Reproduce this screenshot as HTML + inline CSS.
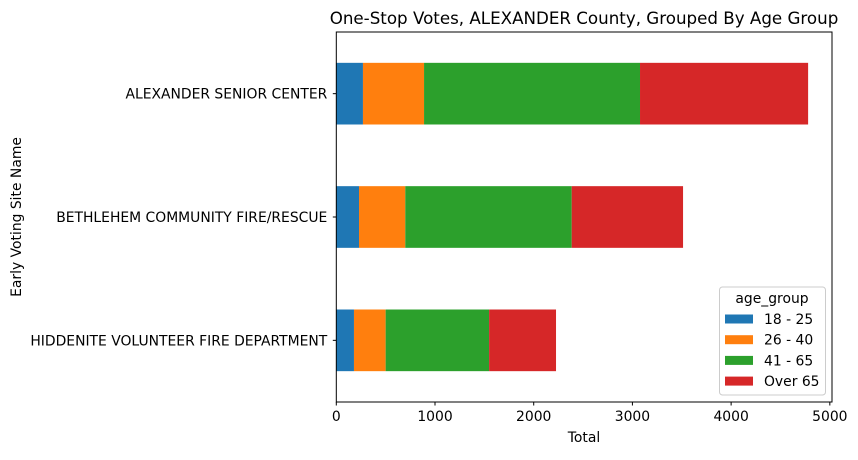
<!DOCTYPE html>
<html><head><meta charset="utf-8"><style>
body{margin:0;background:#fff;}
svg{font-family:"DejaVu Sans","Liberation Sans",sans-serif;}
</style></head><body>
<svg id="chart" width="858" height="455" viewBox="0 0 858 455">
<rect width="858" height="455" fill="#fff"/>
<text x="584" y="24" font-size="16.7" text-anchor="middle">One-Stop Votes, ALEXANDER County, Grouped By Age Group</text>
<g id="bars"></g>
<g id="axes"></g>
<text x="584" y="442" font-size="13.9" text-anchor="middle">Total</text>
<text transform="translate(21,217) rotate(-90)" font-size="13.9" text-anchor="middle">Early Voting Site Name</text>
<g id="legend"></g>
</svg>
<script>
const sites = ["ALEXANDER SENIOR CENTER","BETHLEHEM COMMUNITY FIRE/RESCUE","HIDDENITE VOLUNTEER FIRE DEPARTMENT"];
const groups = ["18 - 25","26 - 40","41 - 65","Over 65"];
const colors = ["#1f77b4","#ff7f0e","#2ca02c","#d62728"];
const v1825 = [270,230,179];
const v2640 = [619,469,321];
const v4165 = [2188,1686,1048];
const vOver65 = [1703,1128,678];
const xTicks = [0,1000,2000,3000,4000,5000];
const series = [v1825,v2640,v4165,vOver65];
const NS="http://www.w3.org/2000/svg";
const L=336.3,R=832,T=32,B=402,XMAX=5022;
const x=v=>L+v/XMAX*(R-L);
const step=(B-T)/sites.length;
const yc=i=>T+step*(i+0.5);
const bh=step*0.5;
function mk(tag,attrs,parent){const e=document.createElementNS(NS,tag);for(const k in attrs)e.setAttribute(k,attrs[k]);parent.appendChild(e);return e;}
const bars=document.getElementById('bars');
sites.forEach((s,i)=>{let acc=0;series.forEach((ser,j)=>{
 const r=mk('rect',{x:x(acc),y:yc(i)-bh/2,width:x(acc+ser[i])-x(acc),height:bh,fill:colors[j]},bars);
 
 
 acc+=ser[i];});});
const ax=document.getElementById('axes');
const fr=mk('rect',{x:L,y:T,width:R-L,height:B-T,fill:'none',stroke:'#000','stroke-width':1},ax);


xTicks.forEach(t=>{mk('line',{x1:x(t),x2:x(t),y1:B,y2:B+3.5,stroke:'#000'},ax);
 const tx=mk('text',{x:x(t),y:B+19,'font-size':13.9,'text-anchor':'middle'},ax);tx.textContent=t;
 
 });
sites.forEach((s,i)=>{mk('line',{x1:L-3.5,x2:L,y1:yc(i),y2:yc(i),stroke:'#000'},ax);
 const tx=mk('text',{x:L-9,y:yc(i)+5,'font-size':13.9,'text-anchor':'end'},ax);tx.textContent=s;
 
 });
const lg=document.getElementById('legend');
mk('rect',{x:719.5,y:287,width:106,height:108,rx:3,fill:'#fff',stroke:'#ccc'},lg);
const lt=mk('text',{x:772,y:303,'font-size':13.9,'text-anchor':'middle'},lg);lt.textContent='age_group';


groups.forEach((g,j)=>{const yy=319+j*20.7;
 mk('rect',{x:725,y:yy-4.5,width:28,height:9,fill:colors[j]},lg);
 const t=mk('text',{x:764,y:yy+5,'font-size':13.9},lg);t.textContent=g;
 
 });
</script>
</body></html>
